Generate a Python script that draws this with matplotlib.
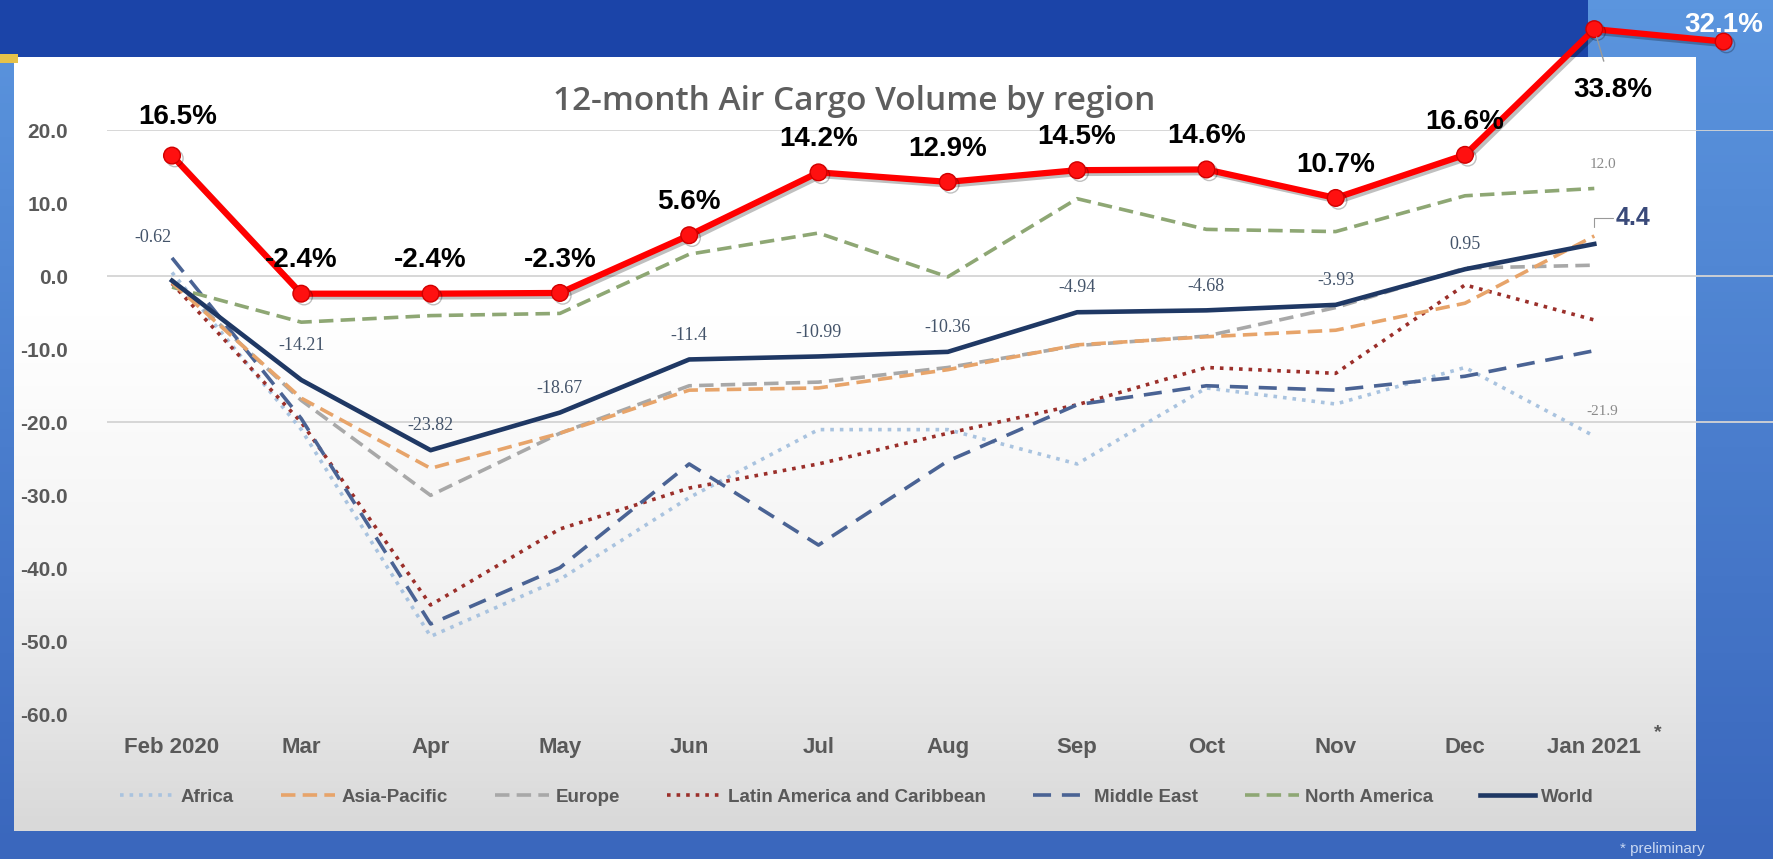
import numpy as np
import matplotlib.pyplot as plt
from matplotlib.colors import LinearSegmentedColormap
from matplotlib.patches import Rectangle
from matplotlib import patheffects as pe

plt.rcParams['font.family'] = ['Liberation Sans', 'DejaVu Sans']

months = ['Feb 2020', 'Mar', 'Apr', 'May', 'Jun', 'Jul', 'Aug', 'Sep', 'Oct', 'Nov', 'Dec', 'Jan 2021']

africa = [0.5, -21.0, -49.3, -41.5, -30.3, -21.0, -21.0, -25.7, -15.3, -17.5, -12.5, -21.9]
asia_pacific = [-0.9, -16.7, -26.3, -21.5, -15.6, -15.3, -12.8, -9.4, -8.3, -7.4, -3.7, 5.5]
europe = [-0.5, -17.0, -30.0, -21.5, -15.0, -14.5, -12.5, -9.5, -8.2, -4.3, 1.1, 1.5]
latin_america = [-1.0, -20.0, -45.0, -34.6, -29.0, -25.7, -21.5, -17.6, -12.5, -13.3, -1.2, -6.0]
middle_east = [2.5, -19.5, -47.6, -39.9, -25.7, -36.8, -25.3, -17.6, -15.0, -15.6, -13.7, -10.2]
north_america = [-1.5, -6.3, -5.4, -5.1, 3.0, 5.9, -0.1, 10.6, 6.4, 6.1, 11.0, 12.0]
world = [-0.62, -14.21, -23.82, -18.67, -11.4, -10.99, -10.36, -4.94, -4.68, -3.93, 0.95, 4.4]

# red overlay line (one more month than the chart)
red_values = [16.5, -2.4, -2.4, -2.3, 5.6, 14.2, 12.9, 14.5, 14.6, 10.7, 16.6, 33.8, 32.1]
red_labels = ['16.5%', '-2.4%', '-2.4%', '-2.3%', '5.6%', '14.2%', '12.9%', '14.5%',
              '14.6%', '10.7%', '16.6%', '33.8%', '32.1%']

yticks = [20, 10, 0, -10, -20, -30, -40, -50, -60]
W, H = 1773, 859

fig = plt.figure(figsize=(W / 100, H / 100), dpi=100)

# ---- background (slide screenshot) ----
bg = fig.add_axes([0, 0, 1, 1])
bg.set_xlim(0, W)
bg.set_ylim(H, 0)
bg.axis('off')
blue = LinearSegmentedColormap.from_list('bl', ['#5b95de', '#3a67bd'])
bg.imshow(np.linspace(0, 1, 100).reshape(-1, 1), extent=[0, W, H, 0], aspect='auto', cmap=blue)
bg.add_patch(Rectangle((0, 0), 1588, 57, color='#1b44a8', lw=0))
panel = LinearSegmentedColormap.from_list('pn', ['#ffffff', '#ffffff', '#f4f4f4', '#d9d9d9'])
bg.imshow(np.linspace(0, 1, 200).reshape(-1, 1), extent=[14, 1696, 831, 57], aspect='auto', cmap=panel)
bg.add_patch(Rectangle((0, 54), 18, 9, color='#e6c24a', lw=0))
bg.text(854, 102, '12-month Air Cargo Volume by region', ha='center', va='center',
        fontsize=24, fontweight='semibold', color='#5e5e5e', family='Open Sans')
bg.text(1662, 849, '* preliminary', ha='center', va='center', fontsize=11, color='#c9d8f2')

# ---- chart axes ----
x0 = 172
dx = 129.3
left_px, right_px = 107, W
top_px, bot_px = 130, 714.6
ax = fig.add_axes([left_px / W, 1 - bot_px / H, (right_px - left_px) / W, (bot_px - top_px) / H])
ax.set_facecolor('none')
ax.set_xlim((left_px - x0) / dx, (right_px - x0) / dx)
ax.set_ylim(-60, 20)
for s in ax.spines.values():
    s.set_visible(False)
for g in [20, 0, -20]:
    ax.axhline(g, color='#d4d4d4', lw=1.3, zorder=1)

ax.set_yticks(yticks, [f'{t:.1f}' for t in yticks])
ax.set_xticks(range(len(months)), months)
ax.tick_params(axis='y', length=0, pad=28, labelsize=15, labelcolor='#595959')
ax.tick_params(axis='x', length=0, pad=16, labelsize=16, labelcolor='#595959')
for lab in ax.get_xticklabels() + ax.get_yticklabels():
    lab.set_fontweight('bold')

x = np.arange(len(months))
l_af, = ax.plot(x, africa, ls=':', lw=2.6, color='#a9c3df', label='Africa', zorder=2)
l_ap, = ax.plot(x, asia_pacific, ls=(0, (4, 2)), lw=2.6, color='#e7a46a', label='Asia-Pacific', zorder=3)
l_eu, = ax.plot(x, europe, ls=(0, (4, 2)), lw=2.6, color='#a8a8a8', label='Europe', zorder=2)
l_la, = ax.plot(x, latin_america, ls=':', lw=2.6, color='#9b2f2a', label='Latin America and Caribbean', zorder=2)
l_me, = ax.plot(x, middle_east, ls=(0, (5, 3)), lw=2.6, color='#4a6394', label='Middle East', zorder=2)
l_na, = ax.plot(x, north_america, ls=(0, (4, 2)), lw=2.6, color='#8ea774', label='North America', zorder=2)
l_w, = ax.plot(x, world, ls='-', lw=3.3, color='#1f3864', label='World', zorder=4)

# world data labels
for i, v in enumerate(world[:-1]):
    off = (0, 17.5)
    if i == 0:
        off = (-14, 31)
    elif i == 1:
        off = (0, 25)
    ax.annotate(f'{v:g}', (i, v), xytext=off, textcoords='offset points', ha='center', va='center',
                fontsize=13, color='#44546a', family='Liberation Serif')
ax.annotate('4.4', (11, world[-1]), xytext=(28, 19), textcoords='offset points', ha='center', va='center',
            fontsize=18, fontweight='bold', color='#3a4a7a',
            arrowprops=dict(arrowstyle='-', color='#999999', lw=0.8, shrinkA=0, shrinkB=12,
                            connectionstyle='angle,angleA=0,angleB=90'))
ax.annotate('12.0', (11, north_america[-1]), xytext=(6, 17), textcoords='offset points', ha='center',
            va='center', fontsize=11, color='#8a8a8a', family='Liberation Serif')
ax.annotate('-21.9', (11, africa[-1]), xytext=(6, 18), textcoords='offset points', ha='center',
            va='center', fontsize=11, color='#8a8a8a', family='Liberation Serif')

# red overlay
xr = np.arange(len(red_values))
ax.plot(xr, red_values, color='#ff0000', lw=4.5, marker='o', ms=12, mfc='#ff1010', mec='#d00000',
        clip_on=False, zorder=10,
        path_effects=[pe.SimpleLineShadow(offset=(2, -2), alpha=0.25), pe.Normal()])
for i, (v, t) in enumerate(zip(red_values, red_labels)):
    off, col, arr = (0, 24), 'black', None
    if i == 0:
        off = (4, 28)
    if i == 11:
        off = (13, -44)
        arr = dict(arrowstyle='-', color='#999999', lw=1, shrinkA=10, shrinkB=6)
    if i == 12:
        off = (0, 12)
        col = 'white'
    ax.annotate(t, (i, v), xytext=off, textcoords='offset points', ha='center', va='center',
                fontsize=20, fontweight='bold', color=col, annotation_clip=False, zorder=11,
                arrowprops=arr)

ax.annotate('*', (11, -60), xytext=(46, -13), textcoords='offset points', ha='center', va='center',
            fontsize=14, fontweight='bold', color='#595959', annotation_clip=False)

leg = ax.legend(handles=[l_af, l_ap, l_eu, l_la, l_me, l_na, l_w], ncol=7, loc='center',
                bbox_to_anchor=(857 / W, 1 - 797 / H), bbox_transform=fig.transFigure,
                frameon=False, handlelength=2.9, handletextpad=0.35, columnspacing=2.5,
                prop={'weight': 'bold', 'size': 13.5})
for t in leg.get_texts():
    t.set_color('#595959')

fig.savefig('out.png', dpi=100)
